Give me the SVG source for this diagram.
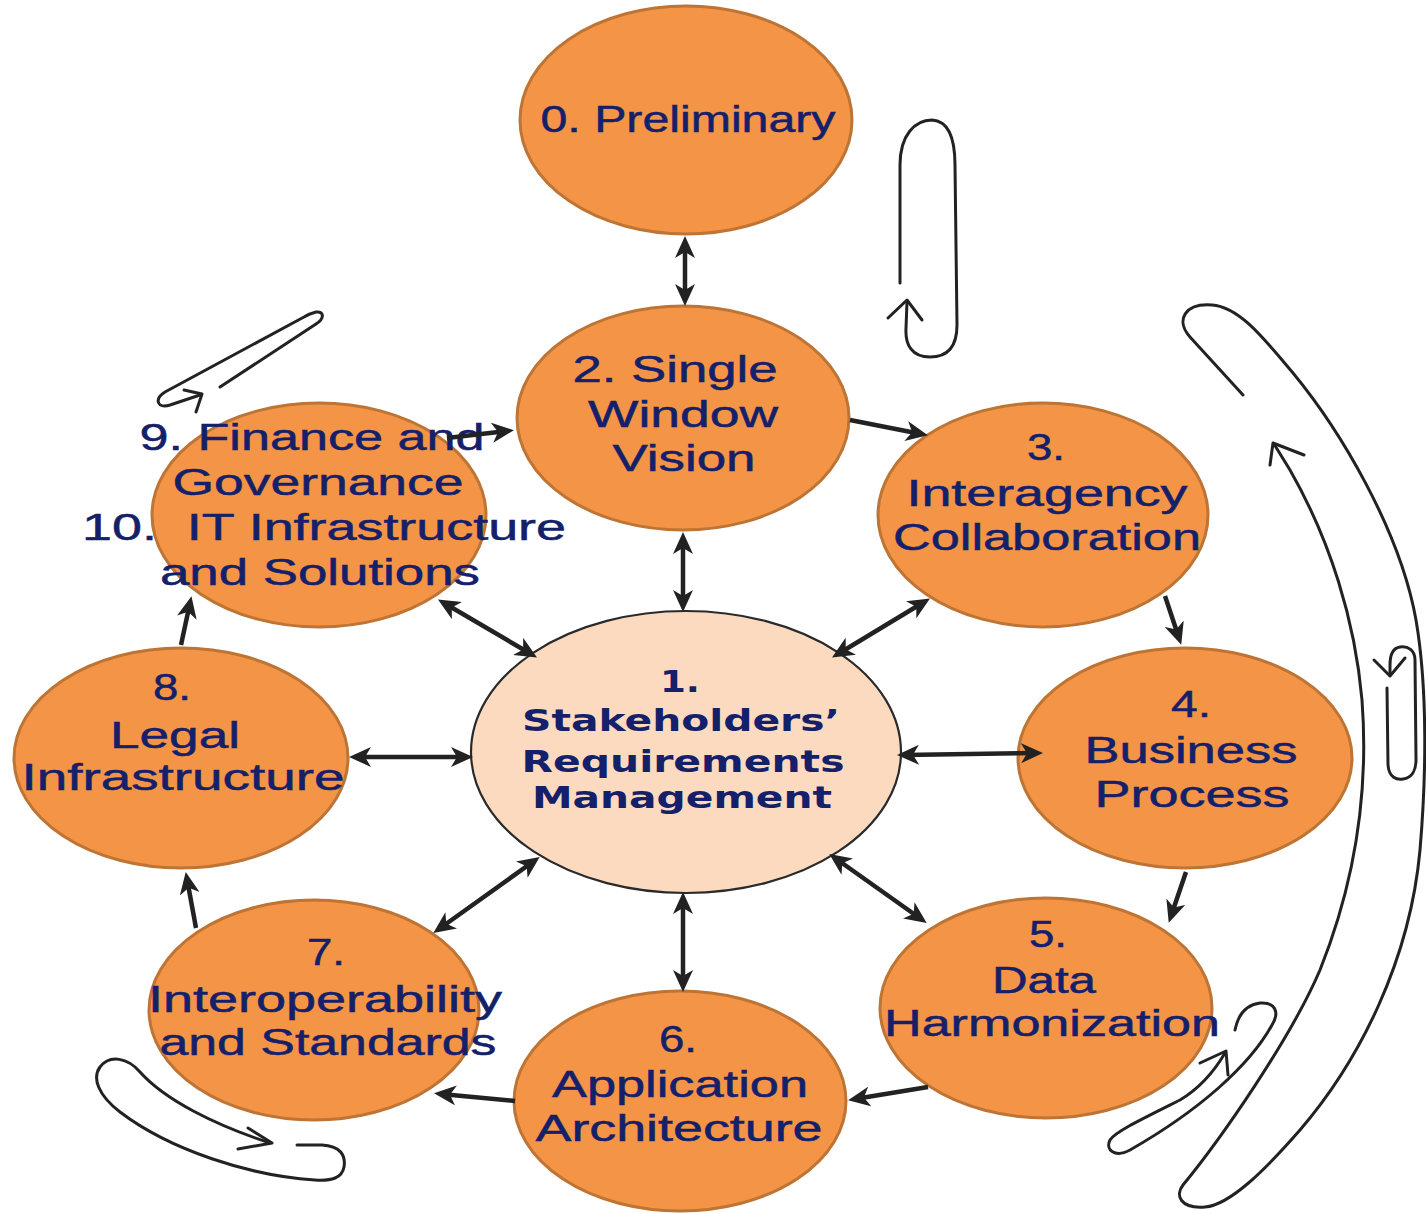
<svg xmlns="http://www.w3.org/2000/svg" width="1426" height="1213" viewBox="0 0 1426 1213">
<style>
.node{fill:#f39446;stroke:#bd7434;stroke-width:3}
.center{fill:#fcdabf;stroke:#2a2a2a;stroke-width:2.2}
.t{font-family:"Liberation Sans",Arial,sans-serif;font-size:37px;fill:#14206a;stroke:#14206a;stroke-width:0.5;text-anchor:middle}
.tb{font-family:"DejaVu Sans",Verdana,sans-serif;font-weight:bold;font-size:31px;fill:#14206a;text-anchor:middle}
.c{fill:none;stroke:#222;stroke-width:4.5}
.l{fill:none;stroke:#222;stroke-width:3;stroke-linecap:round;stroke-linejoin:round}
</style>
<defs>
<marker id="ah" viewBox="0 0 22 20" refX="15" refY="10" markerWidth="22" markerHeight="20" markerUnits="userSpaceOnUse" orient="auto-start-reverse">
<path d="M0,0 L22,10 L0,20 L6,10 Z" fill="#222"/>
</marker>
</defs>
<rect width="1426" height="1213" fill="#ffffff"/>

<g id="cycle-arrows">
<path class="l" d="M900,283 L900,165 C900,135 915,120 932,120 C950,121 955,140 955,165 L957,325 C957,347 947,357 930,357 C912,357 905,345 906,328 L907,302"/>
<path class="l" d="M888,318 L907,300 L922,320"/>
<path class="l" d="M220,387 L316,324 C325,318 324,311 316,312 C312,313 309,314 304,317 L165,392 C154,399 157,409 170,405 L200,395"/>
<path class="l" d="M184,390 L202,394 L196,412"/>
<path class="l" d="M1243,395 L1190,337 C1175,320 1185,303 1212,305 C1240,307 1265,340 1293,373 C1340,430 1400,530 1416,620 C1428,690 1426,780 1420,850 C1410,960 1360,1060 1300,1130 C1265,1170 1230,1205 1205,1207 C1180,1209 1175,1195 1183,1185 C1220,1140 1290,1040 1320,970 C1360,870 1368,780 1362,700 C1355,620 1330,540 1290,470 L1274,444"/>
<path class="l" d="M1270,465 L1273,443 L1304,455"/>
<path class="l" d="M1387,688 L1388,765 C1389,778 1397,780 1403,779 C1412,778 1416,770 1416,760 L1415,660 C1415,650 1408,646 1400,647 C1393,648 1390,655 1390,665 L1390,675"/>
<path class="l" d="M1374,660 L1390,676 L1405,658"/>
<path class="l" d="M1235,1030 C1238,1015 1245,1005 1260,1003 C1275,1002 1280,1012 1272,1025 C1250,1065 1200,1110 1130,1150 C1115,1158 1105,1150 1110,1140 C1115,1132 1140,1120 1180,1100 C1200,1088 1215,1070 1225,1053"/>
<path class="l" d="M1200,1063 L1226,1051 L1228,1075"/>
<path class="l" d="M297,1145 L322,1145 C340,1146 346,1155 344,1167 C342,1178 332,1181 315,1180 C250,1176 170,1150 120,1112 C98,1095 92,1078 100,1067 C110,1054 128,1058 140,1072 C165,1100 215,1125 270,1143"/>
<path class="l" d="M248,1128 L272,1143 L238,1149"/>
</g>

<g id="node0">
<ellipse class="node" cx="686" cy="120" rx="166" ry="114"/>
<text class="t" x="688" y="132" textLength="295" lengthAdjust="spacingAndGlyphs">0. Preliminary</text>
</g>
<g id="node2">
<ellipse class="node" cx="683" cy="418" rx="166" ry="112"/>
<text class="t" x="675" y="382" textLength="205" lengthAdjust="spacingAndGlyphs">2. Single</text>
<text class="t" x="683" y="427" textLength="190" lengthAdjust="spacingAndGlyphs">Window</text>
<text class="t" x="684" y="471" textLength="143" lengthAdjust="spacingAndGlyphs">Vision</text>
</g>
<g id="node3">
<ellipse class="node" cx="1043" cy="515" rx="165" ry="112"/>
<text class="t" x="1046" y="460" textLength="38" lengthAdjust="spacingAndGlyphs">3.</text>
<text class="t" x="1047" y="506" textLength="281" lengthAdjust="spacingAndGlyphs">Interagency</text>
<text class="t" x="1047" y="550" textLength="308" lengthAdjust="spacingAndGlyphs">Collaboration</text>
</g>
<g id="node4">
<ellipse class="node" cx="1185" cy="758" rx="167" ry="110"/>
<text class="t" x="1191" y="717" textLength="40" lengthAdjust="spacingAndGlyphs">4.</text>
<text class="t" x="1191" y="763" textLength="213" lengthAdjust="spacingAndGlyphs">Business</text>
<text class="t" x="1192" y="807" textLength="195" lengthAdjust="spacingAndGlyphs">Process</text>
</g>
<g id="node5">
<ellipse class="node" cx="1046" cy="1008" rx="166" ry="110"/>
<text class="t" x="1048" y="947" textLength="38" lengthAdjust="spacingAndGlyphs">5.</text>
<text class="t" x="1044" y="993" textLength="104" lengthAdjust="spacingAndGlyphs">Data</text>
<text class="t" x="1052" y="1036" textLength="336" lengthAdjust="spacingAndGlyphs">Harmonization</text>
</g>
<g id="node6">
<ellipse class="node" cx="680" cy="1101" rx="166" ry="110"/>
<text class="t" x="678" y="1052" textLength="38" lengthAdjust="spacingAndGlyphs">6.</text>
<text class="t" x="680" y="1097" textLength="256" lengthAdjust="spacingAndGlyphs">Application</text>
<text class="t" x="679" y="1141" textLength="287" lengthAdjust="spacingAndGlyphs">Architecture</text>
</g>
<g id="node7">
<ellipse class="node" cx="314" cy="1010" rx="165" ry="110"/>
<text class="t" x="326" y="965" textLength="38" lengthAdjust="spacingAndGlyphs">7.</text>
<text class="t" x="325" y="1012" textLength="354" lengthAdjust="spacingAndGlyphs">Interoperability</text>
<text class="t" x="328" y="1055" textLength="337" lengthAdjust="spacingAndGlyphs">and Standards</text>
</g>
<g id="node8">
<ellipse class="node" cx="181" cy="758" rx="167" ry="110"/>
<text class="t" x="172" y="700" textLength="38" lengthAdjust="spacingAndGlyphs">8.</text>
<text class="t" x="175" y="748" textLength="130" lengthAdjust="spacingAndGlyphs">Legal</text>
<text class="t" x="183" y="790" textLength="323" lengthAdjust="spacingAndGlyphs">Infrastructure</text>
</g>
<g id="node9">
<ellipse class="node" cx="319" cy="515" rx="167" ry="112"/>
<text class="t" x="312" y="450" textLength="345" lengthAdjust="spacingAndGlyphs">9. Finance and</text>
<text class="t" x="318" y="495" textLength="291" lengthAdjust="spacingAndGlyphs">Governance</text>
<text class="t" x="324" y="540" textLength="484" lengthAdjust="spacingAndGlyphs" xml:space="preserve">10.  IT Infrastructure</text>
<text class="t" x="320" y="585" textLength="320" lengthAdjust="spacingAndGlyphs">and Solutions</text>
</g>
<g id="node1">
<ellipse class="center" cx="686" cy="752" rx="215" ry="141"/>
<text class="tb" x="680" y="692" textLength="40" lengthAdjust="spacingAndGlyphs">1.</text>
<text class="tb" x="681" y="731" textLength="318" lengthAdjust="spacingAndGlyphs">Stakeholders’</text>
<text class="tb" x="683" y="772" textLength="323" lengthAdjust="spacingAndGlyphs">Requirements</text>
<text class="tb" x="682" y="808" textLength="300" lengthAdjust="spacingAndGlyphs">Management</text>
</g>

<g id="connectors">
<path class="c" d="M685,243 L685,299" marker-start="url(#ah)" marker-end="url(#ah)"/>
<path class="c" d="M683,539 L683,605" marker-start="url(#ah)" marker-end="url(#ah)"/>
<path class="c" d="M850,420 L921,434" marker-end="url(#ah)"/>
<path class="c" d="M447,438 L507,431" marker-end="url(#ah)"/>
<path class="c" d="M1165,596 L1179,638" marker-end="url(#ah)"/>
<path class="c" d="M1186,872 L1171,916" marker-end="url(#ah)"/>
<path class="c" d="M928,1087 L855,1099" marker-end="url(#ah)"/>
<path class="c" d="M515,1101 L441,1094" marker-end="url(#ah)"/>
<path class="c" d="M196,928 L187,879" marker-end="url(#ah)"/>
<path class="c" d="M181,645 L190,603" marker-end="url(#ah)"/>
<path class="c" d="M531,654 L444,603" marker-start="url(#ah)" marker-end="url(#ah)"/>
<path class="c" d="M838,654 L924,602" marker-start="url(#ah)" marker-end="url(#ah)"/>
<path class="c" d="M466,757 L356,757" marker-start="url(#ah)" marker-end="url(#ah)"/>
<path class="c" d="M904,755 L1036,753" marker-start="url(#ah)" marker-end="url(#ah)"/>
<path class="c" d="M534,861 L439,929" marker-start="url(#ah)" marker-end="url(#ah)"/>
<path class="c" d="M835,858 L921,919" marker-start="url(#ah)" marker-end="url(#ah)"/>
<path class="c" d="M683,899 L683,985" marker-start="url(#ah)" marker-end="url(#ah)"/>
</g>
</svg>
